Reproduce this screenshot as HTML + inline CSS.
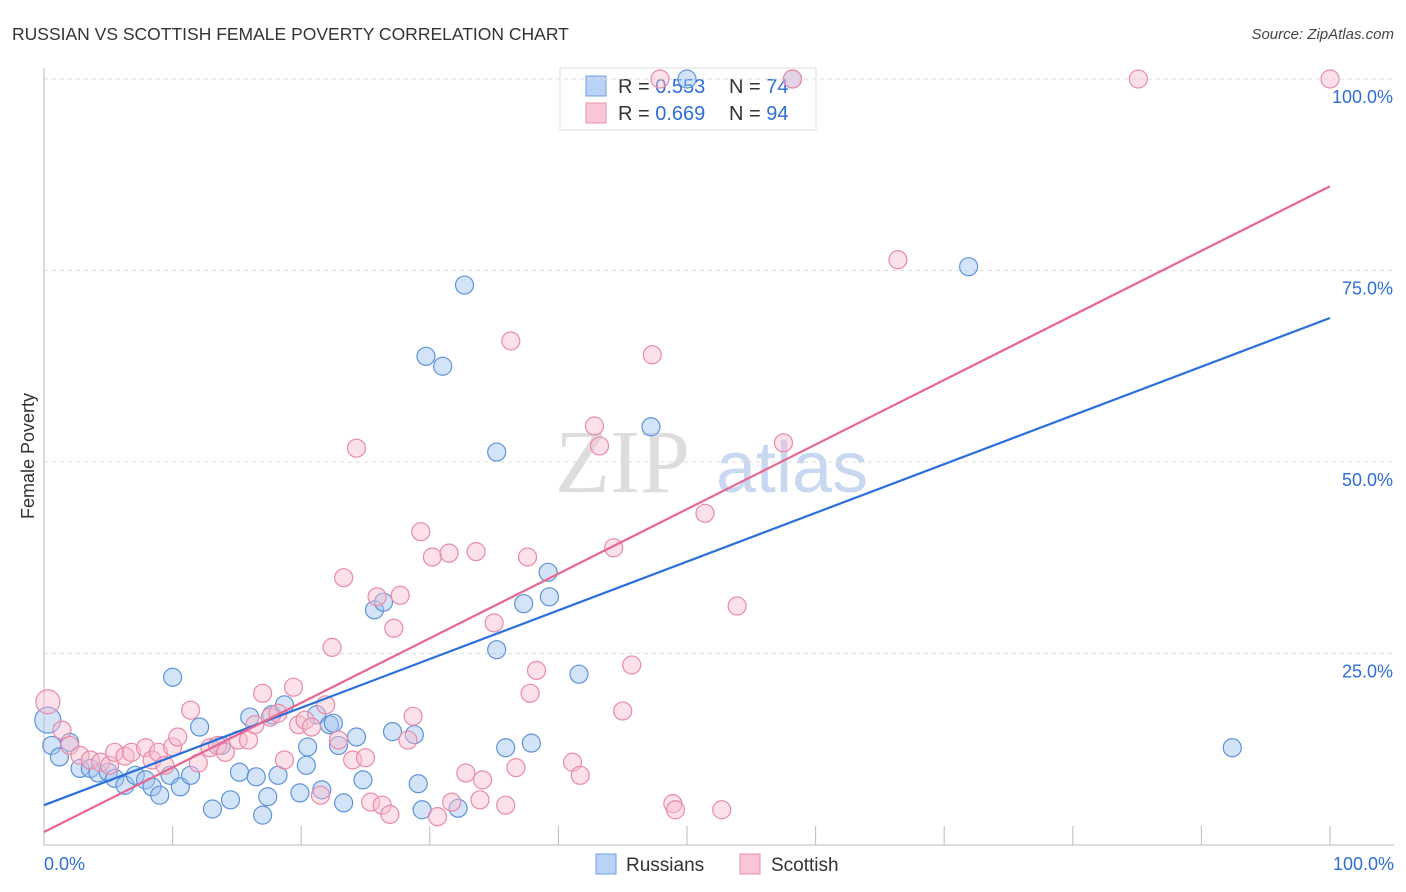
<!DOCTYPE html>
<html><head><meta charset="utf-8"><style>
body{margin:0;background:#fff;font-family:"Liberation Sans",sans-serif}
svg{display:block}
</style></head><body>
<svg id="chart" width="1406" height="892">
<text x="12" y="40" font-size="17.5" fill="#333">RUSSIAN VS SCOTTISH FEMALE POVERTY CORRELATION CHART</text>
<text x="1394" y="39" font-size="15" fill="#444" text-anchor="end" font-style="italic">Source: ZipAtlas.com</text>
<text x="34" y="456" font-size="18" fill="#333" text-anchor="middle" transform="rotate(-90 34 456)">Female Poverty</text>
<g><text x="555" y="492" font-size="90" font-family="Liberation Serif,serif" fill="#ddd">ZIP</text><text x="716" y="492" font-size="72" fill="#c8d8f0">atlas</text></g>
<g>
<rect x="560" y="68" width="256" height="62" fill="#fff" stroke="#ddd"/>
<rect x="586" y="76" width="20" height="20" fill="#b8d3f5" stroke="#6f9fe0"/>
<rect x="586" y="103" width="20" height="20" fill="#f9c6d6" stroke="#e890ab"/>
<text x="618" y="93" font-size="20" fill="#333">R = <tspan fill="#2d6ed8">0.553</tspan></text>
<text x="729" y="93" font-size="20" fill="#333">N = <tspan fill="#2d6ed8">74</tspan></text>
<text x="618" y="120" font-size="20" fill="#333">R = <tspan fill="#2d6ed8">0.669</tspan></text>
<text x="729" y="120" font-size="20" fill="#333">N = <tspan fill="#2d6ed8">94</tspan></text>
</g>
<g id="grid"></g><g id="marks"></g><g id="lines"></g>
<g>
<rect x="596" y="854" width="20" height="20" fill="#b8d3f5" stroke="#6f9fe0"/><text x="626" y="871" font-size="19" fill="#333">Russians</text>
<rect x="740" y="854" width="20" height="20" fill="#f9c6d6" stroke="#e890ab"/><text x="771" y="871" font-size="19" fill="#333">Scottish</text>
</g>
</svg>
<script>
const russiansX=[0.3,0.6,1.2,2,2.8,3.6,4.2,5,5.5,6.3,7.1,7.9,8.4,9,10,9.8,10.6,11.4,12.1,13.1,13.8,14.5,15.2,16,16.5,17,17.4,17.7,18.2,18.7,19.9,20.4,20.5,21.2,21.6,22.2,22.5,22.9,23.3,24.3,24.8,25.7,26.4,27.1,28.8,29.1,29.4,29.7,31,32.2,32.7,35.2,35.2,35.9,37.3,37.9,39.2,39.3,41.6,47.2,71.9,92.4,50,58.2];
const russiansY=[16.3,13,11.5,13.4,10,10,9.4,9.5,8.7,7.8,9.1,8.5,7.6,6.5,21.9,9.1,7.6,9.1,15.4,4.7,13,5.9,9.5,16.7,8.9,3.9,6.3,17,9.1,18.3,6.8,10.4,12.8,17,7.2,15.7,15.9,13,5.5,14.1,8.5,30.7,31.7,14.8,14.4,8,4.6,63.8,62.5,4.8,73.1,51.3,25.5,12.7,31.5,13.3,35.6,32.4,22.3,54.6,75.5,12.7,100,100];
const scottishX=[0.3,1.4,2,2.8,3.6,4.4,5.1,5.5,6.3,6.8,7.9,8.4,8.9,9.4,10,10.4,11.4,12,12.9,13.5,14.1,15.1,15.9,16.4,17,17.6,18.2,18.7,19.4,19.8,20.3,20.8,21.5,21.9,22.4,22.9,23.3,24,24.3,25,25.4,25.9,26.3,26.9,27.2,27.7,28.3,28.7,29.3,30.2,30.6,31.5,31.7,32.8,33.6,33.9,34.1,35,35.9,36.3,36.7,37.6,37.8,38.3,41.1,41.7,42.8,43.2,44.3,45,45.7,47.3,48.9,49.1,51.4,52.7,53.9,57.5,66.4,85.1,100,47.9,58.2];
const scottishY=[18.7,15,13,11.7,11.1,10.8,10.4,12.1,11.6,12.1,12.7,11.1,12.1,10.4,12.8,14.1,17.6,10.7,12.7,13,12.1,13.7,13.7,15.7,19.8,16.7,17.2,11.1,20.6,15.7,16.3,15.4,6.5,18.3,25.8,13.7,34.9,11.1,51.8,11.4,5.6,32.4,5.2,4,28.3,32.6,13.7,16.8,40.9,37.6,3.7,38.1,5.6,9.4,38.3,5.9,8.5,29,5.2,65.8,10.1,37.6,19.8,22.8,10.8,9.1,54.7,52.1,38.8,17.5,23.5,64,5.4,4.6,43.3,4.6,31.2,52.5,76.4,100,100,100,100];
const trendStart=[5.2,1.7];
const trendEnd=[68.8,86.0];
const yTicks=[25,50,75,100];
const yTickLabels=["25.0%","50.0%","75.0%","100.0%"];
const xTickLabels=["0.0%","100.0%"];
const NS="http://www.w3.org/2000/svg";
const X=v=>44+v*12.86, Y=v=>845-v*7.66;
function mk(t,a,p){const e=document.createElementNS(NS,t);for(const k in a)e.setAttribute(k,a[k]);p.appendChild(e);return e;}
const g=document.getElementById('grid');
yTicks.forEach((t,i)=>{
 const l=mk('line',{x1:44,x2:1394,y1:Y(t),y2:Y(t),stroke:'#ddd','stroke-dasharray':'4,4'},g);
 
 
 const tx=mk('text',{x:1393,y:Y(t)+24,'font-size':18,fill:'#2d6ed8','text-anchor':'end'},g);
 tx.textContent=yTickLabels[i];
 
 
});
const ax=mk('path',{d:'M44 68V845H1394',stroke:'#bbb',fill:'none'},g);


for(let i=0;i<=10;i++){const t=mk('line',{x1:X(i*10),x2:X(i*10),y1:826,y2:845,stroke:'#bbb'},g);
 
 }
[[0,'start',44],[100,'end',1394]].forEach((d,i)=>{const tx=mk('text',{x:d[2],y:870,'font-size':18,fill:'#2d6ed8','text-anchor':d[1]},g);tx.textContent=xTickLabels[i];
 
 });
const m=document.getElementById('marks');
russiansX.forEach((x,i)=>{const c=mk('circle',{cx:X(x),cy:Y(russiansY[i]),r:i==0?13:9,fill:'rgba(160,196,240,0.45)',stroke:'#5d93dc','stroke-width':1.2},m);
 
 });
scottishX.forEach((x,i)=>{const c=mk('circle',{cx:X(x),cy:Y(scottishY[i]),r:i==0?12:9,fill:'rgba(248,188,206,0.45)',stroke:'#e88aa8','stroke-width':1.2},m);
 
 });
const L=document.getElementById('lines');const cols=['#2a6fdb','#e8668f'];
trendStart.forEach((s,i)=>{const l=mk('line',{x1:X(0),y1:Y(s),x2:X(100),y2:Y(trendEnd[i]),stroke:cols[i],'stroke-width':2.2},L);
 
 });
</script>
</body></html>
